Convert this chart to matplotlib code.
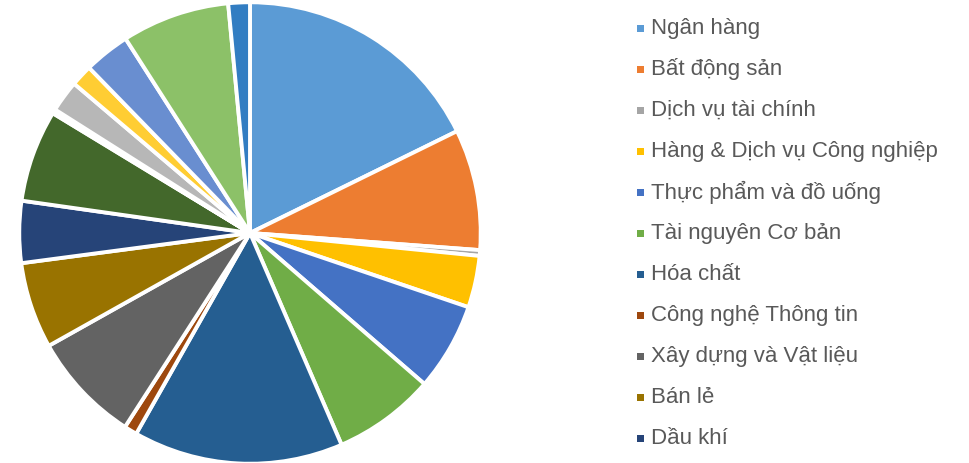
import matplotlib.pyplot as plt
from matplotlib.patches import Rectangle

plt.rcParams['font.family'] = ['Liberation Sans', 'DejaVu Sans']

# sectors, clockwise from 12 o'clock (only the first 11 appear in the legend)
sectors = ['Ngân hàng', 'Bất động sản', 'Dịch vụ tài chính',
           'Hàng & Dịch vụ Công nghiệp', 'Thực phẩm và đồ uống',
           'Tài nguyên Cơ bản', 'Hóa chất', 'Công nghệ Thông tin',
           'Xây dựng và Vật liệu', 'Bán lẻ', 'Dầu khí',
           'Điện, nước & xăng dầu khí đốt', 'Bảo hiểm', 'Truyền thông',
           'Du lịch và Giải trí', 'Ô tô và phụ tùng',
           'Hàng cá nhân & Gia dụng', 'Y tế', 'Viễn thông']
shares = [17.6, 8.4, 0.4, 3.6, 6.1, 7.1, 14.6, 0.9, 7.7, 6.0, 4.3,
          6.4, 0.1, 0.2, 2.2, 1.5, 3.2, 7.5, 1.5]
colors = ['#5B9BD5', '#ED7D31', '#A5A5A5', '#FFC000', '#4472C4', '#70AD47',
          '#255E91', '#9E480E', '#636363', '#997300', '#264478', '#43682B',
          '#7CAFDD', '#F1975A', '#B7B7B7', '#FFCD33', '#698ED0', '#8CC168',
          '#327DC2']
n_legend = 11

fig = plt.figure(figsize=(9.69, 4.63), dpi=100)
ax = fig.add_axes([22 / 969, 2 / 463, 456 / 969, 456 / 463])
wedges, _ = ax.pie(shares, colors=colors, startangle=90, counterclock=False,
                   radius=1.012,
                   wedgeprops=dict(edgecolor='white', linewidth=2.8))
ax.set_xlim(-1, 1)
ax.set_ylim(-1, 1)
ax.set_aspect('equal')
ax.axis('off')

# legend, drawn by hand to match the spacing
y0, dy = 28.3, 41.0
for i in range(n_legend):
    yc = y0 + i * dy
    fig.patches.append(Rectangle((637 / 969, 1 - (yc + 3.5) / 463),
                                 7 / 969, 7 / 463,
                                 facecolor=colors[i], edgecolor='none',
                                 transform=fig.transFigure, figure=fig))
    fig.text(651 / 969, 1 - yc / 463, sectors[i], fontsize=16,
             color='#595959', va='center', ha='left')

fig.savefig('out.png', dpi=100)
